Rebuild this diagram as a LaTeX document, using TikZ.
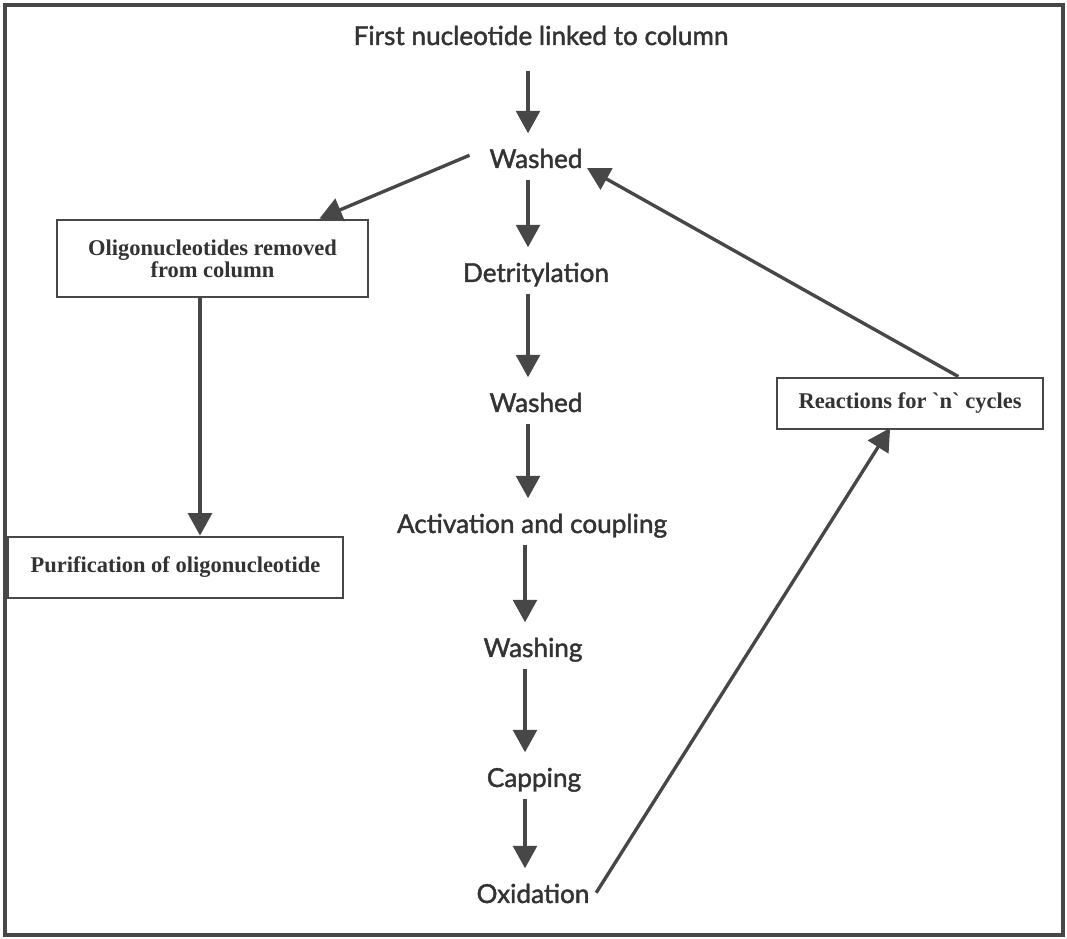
\documentclass[tikz,border=0pt]{standalone}
\usepackage{fontspec}
\setmainfont{Lato}[FakeBold=1.6]
\newfontfamily\boxfont{Liberation Serif}
\usetikzlibrary{arrows.meta}

\begin{document}
\begin{tikzpicture}[
        stage/.style={anchor=base,font=\fontsize{18.6}{22}\selectfont,text=black!80,
            text height=13.5pt,text depth=4pt,inner ysep=0pt,inner xsep=3pt},
        panel/.style={draw=black!72,line width=2pt,align=center,inner sep=0pt,
            font=\boxfont\bfseries\fontsize{16}{15.6}\selectfont,text=black!80},
        flow/.style={draw=black!72,line width=2.4pt,-{Triangle[width=17pt,length=16pt]}},
        nextstep/.style={flow,shorten <=4pt,shorten >=11pt}]
        \useasboundingbox (0,0) rectangle (26.675,23.475);
        \draw[black!72,line width=2.4pt] (0.125,0.1) rectangle (26.575,23.35);

        \node[stage] (first) at (13.525,22.35) {First nucleotide linked to column};
        \node[stage] (washA) at (13.4,19.275) {Washed};
        \node[stage] (detrit) at (13.4,16.425) {Detritylation};
        \node[stage] (washB) at (13.4,13.175) {Washed};
        \node[stage] (activ) at (13.3,10.15) {Activation and coupling};
        \node[stage] (washing) at (13.325,7.05) {Washing};
        \node[stage] (capping) at (13.35,3.8) {Capping};
        \node[stage] (oxid) at (13.325,0.9) {Oxidation};

        \node[panel,minimum width=7.775cm,minimum height=1.925cm] (oligo) at (5.3125,17.0125) {Oligonucleotides removed\\from column};
        \node[panel,minimum width=8.375cm,minimum height=1.525cm] (purif) at (4.3875,9.2875) {Purification of oligonucleotide};
        \node[panel,minimum width=6.65cm,minimum height=1.275cm] (reac) at (22.75,13.3875) {Reactions for `n` cycles};

        \draw[nextstep,shorten <=14pt] ([xshift=-0.2cm]washA.north |- first.south) -- ([xshift=-0.2cm]washA.north);
        \draw[nextstep] ([xshift=-0.2cm]washA.south) -- ([xshift=-0.2cm]washA.south |- detrit.north);
        \draw[nextstep] ([xshift=-0.2cm]washB.north |- detrit.south) -- ([xshift=-0.2cm]washB.north);
        \draw[nextstep] ([xshift=-0.2cm]washB.south) -- ([xshift=-0.2cm]washB.south |- activ.north);
        \draw[nextstep] ([xshift=-0.2cm]washing.north |- activ.south) -- ([xshift=-0.2cm]washing.north);
        \draw[nextstep] ([xshift=-0.2cm]washing.south) -- ([xshift=-0.2cm]washing.south |- capping.north);
        \draw[nextstep] ([xshift=-0.2cm]oxid.north |- capping.south) -- ([xshift=-0.2cm]oxid.north);

        \draw[flow,shorten <=12pt] (washA.north west) -- ([xshift=-1.25cm]oligo.north east);
        \draw[flow] ([xshift=-0.3125cm]oligo.south) -- ([xshift=-0.3125cm]oligo.south |- purif.north);
        \draw[flow] ([xshift=-2.15cm]reac.north east) -- (washA.base east);
        \draw[flow,shorten <=3pt,shorten >=-2pt] (oxid.east) -- ([xshift=2.825cm]reac.south west);
    \end{tikzpicture}
\end{document}
